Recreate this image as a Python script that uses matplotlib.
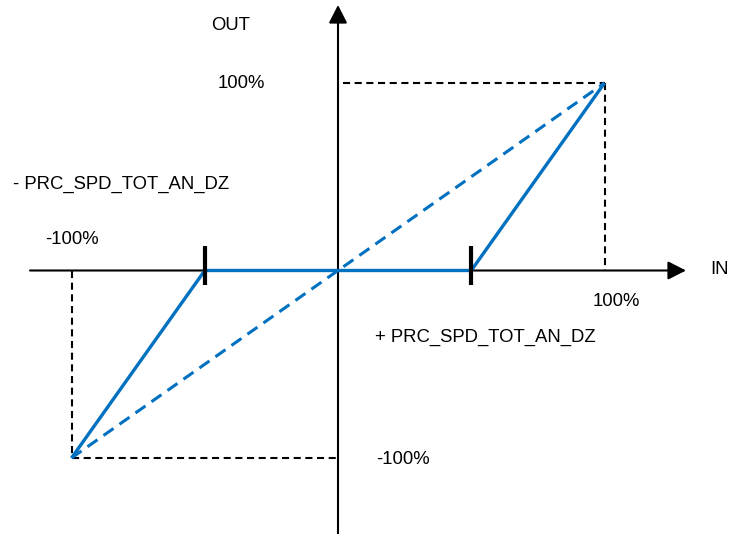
import matplotlib
matplotlib.use("Agg")
import matplotlib.pyplot as plt
from matplotlib.patches import FancyArrowPatch

# Data (percent)
in_curve = [-100, -50, 50, 100]
out_curve = [-100, 0, 0, 100]
in_linear = [-100, 100]
out_linear = [-100, 100]
deadzone = [-50, 50]
full_scale = 100

BLUE = "#0070C0"
plt.rcParams['font.family'] = ['Liberation Sans', 'DejaVu Sans']

fig = plt.figure(figsize=(7.30, 5.34), dpi=100)
ax = fig.add_axes([0, 0, 1, 1])
ax.set_axis_off()
# pixel mapping: origin at (338, 270.5); 100% = 266.5 px horizontally, 187.5 px vertically
sx, sy = 266.5 / 100, 187.5 / 100
X0 = 338
ax.set_xlim(-X0 / sx, (730 - X0) / sx)
ax.set_ylim(-(534 - 270.5) / sy, 270.5 / sy)

def px(x):
    return (x - X0) / sx

def py(y):
    return (270.5 - y) / sy

# axes with arrows
for start, end in [((px(30), 0), (px(686), 0)), ((0, py(540)), (0, py(5)))]:
    ax.add_patch(FancyArrowPatch(start, end, arrowstyle='-|>,head_length=0.55,head_width=0.28',
                                 mutation_scale=20, lw=1.5, color='black',
                                 shrinkA=0, shrinkB=0, zorder=2))

# guide dashed lines
dash = (0, (3.4, 2.2))
ax.plot([px(343), full_scale], [full_scale, full_scale], color='black', lw=1.5, ls=dash, zorder=1)
ax.plot([full_scale, full_scale], [full_scale, 0], color='black', lw=1.5, ls=dash, zorder=1)
ax.plot([-full_scale, -full_scale], [0, -full_scale], color='black', lw=1.5, ls=dash, zorder=1)
ax.plot([-full_scale, 0], [-full_scale, -full_scale], color='black', lw=1.5, ls=dash, zorder=1)

# linear dashed blue
ax.plot(in_linear, out_linear, color=BLUE, lw=2.2, ls=(0, (4, 2.4)), zorder=3)
# dead-zone curve
ax.plot(in_curve, out_curve, color=BLUE, lw=2.4, zorder=4, solid_capstyle='butt')

# dead-zone ticks
for d in deadzone:
    ax.plot([d, d], [py(246), py(285)], color='black', lw=3, zorder=5, solid_capstyle='butt')

fs = 13.3
dy = 2
ax.text(px(231), py(24 + dy), "OUT", fontsize=fs, ha='center', va='center')
ax.text(px(241), py(81 + dy), "100%", fontsize=fs, ha='center', va='center')
ax.text(px(13), py(182 + dy), "- PRC_SPD_TOT_AN_DZ", fontsize=fs, ha='left', va='center')
ax.text(px(72), py(238 + dy), "-100%", fontsize=fs, ha='center', va='center')
ax.text(px(720), py(268 + dy), "IN", fontsize=fs, ha='center', va='center')
ax.text(px(616), py(300 + dy), "100%", fontsize=fs, ha='center', va='center')
ax.text(px(375), py(335 + dy), "+ PRC_SPD_TOT_AN_DZ", fontsize=fs, ha='left', va='center')
ax.text(px(403), py(458 + dy), "-100%", fontsize=fs, ha='center', va='center')

fig.savefig("out.png", dpi=100)
